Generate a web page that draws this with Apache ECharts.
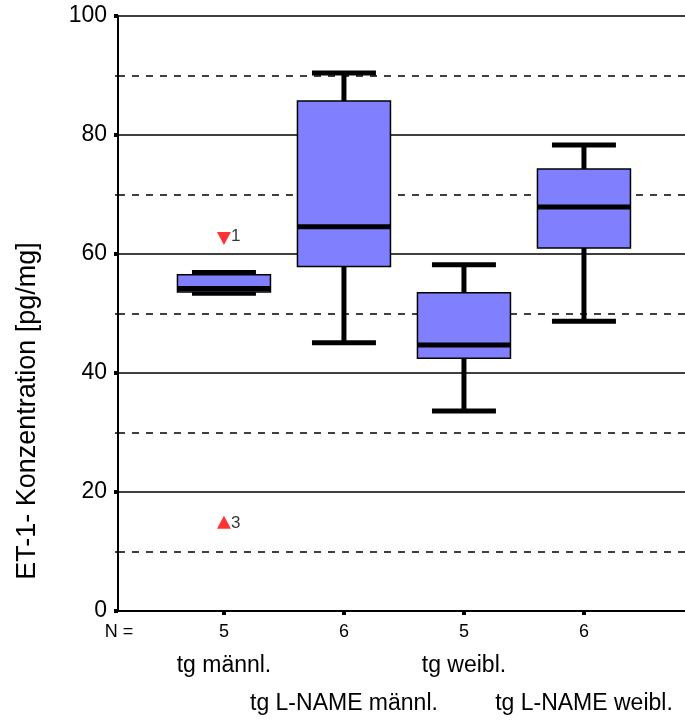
<!DOCTYPE html>
<html>
<head>
<meta charset="utf-8">
<script src="https://cdn.jsdelivr.net/npm/echarts@6/dist/echarts.min.js"></script>
<style>
  html, body { margin: 0; padding: 0; background: #fff; }
  #chart { width: 685px; height: 720px; }
</style>
</head>
<body>
<div id="chart"></div>
<script>
// Groups along the x axis (positions 1..4)
const categories = ['tg männl.', 'tg L-NAME männl.', 'tg weibl.', 'tg L-NAME weibl.'];
const counts = [5, 6, 5, 6];
const groupPositions = [1, 2, 3, 4];

// Box statistics per group: lower whisker, Q1, median, Q3, upper whisker
const lowerWhisker = [53.4, 45.1, 33.6, 48.7];
const quartile1    = [53.6, 57.9, 42.5, 61.0];
const medians      = [54.2, 64.6, 44.7, 67.9];
const quartile3    = [56.5, 85.7, 53.5, 74.3];
const upperWhisker = [56.9, 90.4, 58.2, 78.3];

// Extreme values: group position, value, case number
const outlierGroup = [1, 1];
const outlierValue = [62.6, 14.9];
const outlierCase  = ['1', '3'];

// Value-axis ticks and labels
const yTicks = [0, 20, 40, 60, 80, 100];

const FONT = '"Liberation Sans", Arial, Helvetica, sans-serif';
const X_MIN = 0.117, X_MAX = 4.842;

const boxData = categories.map((c, i) => [
  groupPositions[i], lowerWhisker[i], quartile1[i], medians[i], quartile3[i], upperWhisker[i]
]);

// Values above the median get a downward triangle, values below an upward one
const outlierData = outlierValue.map((v, i) => {
  const above = v > medians[outlierGroup[i] - 1];
  return {
    value: [outlierGroup[i], v, outlierCase[i]],
    symbolRotate: above ? 180 : 0,
    label: { offset: above ? [0, -2] : [0, 1] }
  };
});

// Group names alternate between two staggered rows under the axis
const rowOne = groupPositions.filter((p, i) => i % 2 === 0);
const rowTwo = groupPositions.filter((p, i) => i % 2 === 1);
const nameAt = v => categories[groupPositions.indexOf(Math.round(v))];
const countAt = v => String(counts[groupPositions.indexOf(Math.round(v))]);

function renderBox(params, api) {
  const x = api.value(0);
  const lo = api.coord([x, api.value(1)]);
  const q1 = api.coord([x, api.value(2)]);
  const md = api.coord([x, api.value(3)]);
  const q3 = api.coord([x, api.value(4)]);
  const hi = api.coord([x, api.value(5)]);
  const unit = api.size([1, 0])[0];
  const bw = unit * 0.775;
  const cw = unit * 0.533;
  const cx = lo[0];
  const heavy = { stroke: '#000', lineWidth: 5 };
  return {
    type: 'group',
    children: [
      { type: 'line', shape: { x1: cx, y1: hi[1], x2: cx, y2: q3[1] }, style: heavy },
      { type: 'line', shape: { x1: cx, y1: q1[1], x2: cx, y2: lo[1] }, style: heavy },
      { type: 'line', shape: { x1: cx - cw / 2, y1: hi[1], x2: cx + cw / 2, y2: hi[1] }, style: heavy },
      { type: 'line', shape: { x1: cx - cw / 2, y1: lo[1], x2: cx + cw / 2, y2: lo[1] }, style: heavy },
      { type: 'rect', shape: { x: cx - bw / 2, y: q3[1], width: bw, height: q1[1] - q3[1] },
        style: { fill: '#8080ff', stroke: '#000', lineWidth: 1.5 } },
      { type: 'line', shape: { x1: cx - bw / 2, y1: md[1], x2: cx + bw / 2, y2: md[1] }, style: heavy }
    ]
  };
}

function labelAxis(values, margin, formatter, fontSize) {
  return {
    type: 'value',
    position: 'bottom',
    min: X_MIN,
    max: X_MAX,
    axisLine: { show: false },
    axisTick: { show: false },
    splitLine: { show: false },
    axisLabel: {
      customValues: values,
      showMinLabel: true,
      showMaxLabel: true,
      hideOverlap: false,
      margin: margin,
      fontSize: fontSize,
      lineHeight: 26,
      color: '#000',
      fontFamily: FONT,
      formatter: formatter
    }
  };
}

const chart = echarts.init(document.getElementById('chart'), null, { renderer: 'canvas' });
chart.setOption({
  animation: false,
  backgroundColor: '#fff',
  textStyle: { fontFamily: FONT },
  grid: { left: 118, right: 0, top: 16, bottom: 109, containLabel: false },
  xAxis: [
    {
      type: 'value',
      position: 'bottom',
      min: X_MIN,
      max: X_MAX,
      axisLine: { show: true, onZero: false, lineStyle: { color: '#000', width: 2 } },
      axisTick: { show: true, customValues: groupPositions, length: 4, lineStyle: { color: '#000', width: 4 } },
      splitLine: { show: false },
      axisLabel: {
        customValues: groupPositions,
        showMinLabel: true,
        showMaxLabel: true,
        margin: 8,
        fontSize: 18,
        lineHeight: 26,
        color: '#000',
        fontFamily: FONT,
        formatter: countAt
      }
    },
    labelAxis(rowOne, 42, nameAt, 23),
    labelAxis(rowTwo, 80, nameAt, 23)
  ],
  yAxis: {
    type: 'value',
    min: yTicks[0],
    max: yTicks[yTicks.length - 1],
    interval: 20,
    axisLine: { show: true, lineStyle: { color: '#000', width: 2 } },
    axisTick: { show: true, length: 4, lineStyle: { color: '#000', width: 4 } },
    minorTick: { show: true, splitNumber: 2, length: 3, lineStyle: { color: '#000', width: 1.5 } },
    axisLabel: { fontSize: 23, margin: 11, color: '#000', fontFamily: FONT },
    splitLine: { show: true, lineStyle: { color: '#000', width: 1.5 } },
    minorSplitLine: { show: true, lineStyle: { color: '#000', width: 1.5, type: [7, 7] } }
  },
  series: [
    {
      type: 'custom',
      renderItem: renderBox,
      encode: { x: 0, y: [1, 2, 3, 4, 5] },
      data: boxData,
      z: 3
    },
    {
      type: 'scatter',
      symbol: 'triangle',
      symbolSize: [14, 13],
      itemStyle: { color: '#ff0000' },
      label: {
        show: true,
        position: 'right',
        distance: 0,
        fontSize: 17,
        color: '#000',
        fontFamily: FONT,
        formatter: p => p.value[2]
      },
      data: outlierData,
      z: 4
    }
  ],
  graphic: [
    {
      type: 'text',
      x: 119, y: 632,
      style: { text: 'N =', font: '18px ' + FONT, fill: '#000', align: 'center', verticalAlign: 'middle' }
    },
    {
      type: 'text',
      x: 28, y: 411,
      rotation: Math.PI / 2,
      style: { text: 'ET-1- Konzentration [pg/mg]', font: '27px ' + FONT, fill: '#000', align: 'center', verticalAlign: 'middle' }
    }
  ]
});
</script>
</body>
</html>
